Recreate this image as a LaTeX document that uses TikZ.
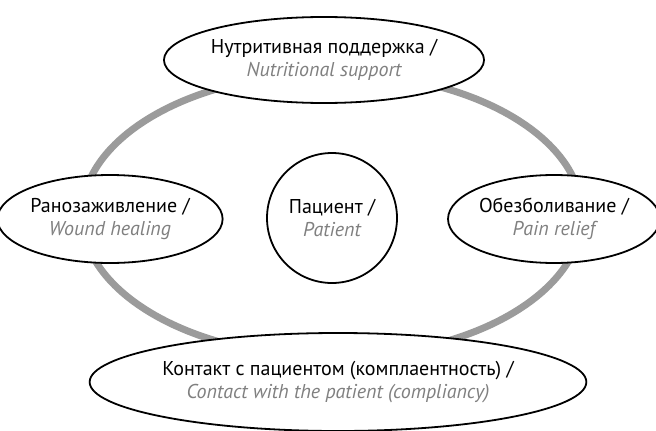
\documentclass[tikz,border=0pt]{standalone}
\usepackage{fontspec}
\setmainfont{PT Sans}
\usetikzlibrary{shapes.geometric}
\definecolor{ringgray}{HTML}{9B9B9B}
\definecolor{engray}{HTML}{808080}
\tikzset{
  bubble/.style={ellipse, draw=black, line width=1.8pt, fill=white, inner sep=0pt, align=center, font=\fontsize{20}{23}\selectfont},
  ring/.style={draw=ringgray, line width=7pt},
}
\newcommand{\en}[1]{\textcolor{engray}{\itshape #1}}
\begin{document}
\begin{tikzpicture}[x=1pt,y=-1pt]
\useasboundingbox (0,0) rectangle (656,431);
\draw[ring] (332,215) ellipse [x radius=250, y radius=142];
\node[bubble, minimum width=304, minimum height=86] (top) at (324,60) {Нутритивная поддержка /\\\en{Nutritional support}};
\node[bubble, minimum width=196, minimum height=88] (left) at (110,219) {Ранозаживление /\\\en{Wound healing}};
\node[bubble, circle, minimum size=130] (center) at (332,218) {Пациент /\\\en{Patient}};
\node[bubble, minimum width=198, minimum height=88] (right) at (554,219) {Обезболивание /\\\en{Pain relief}};
\node[bubble, minimum width=440, minimum height=98] (bottom) at (338,382) {Контакт с пациентом (комплаентность) /\\\en{Contact with the patient (compliancy)}};
\end{tikzpicture}
\end{document}
